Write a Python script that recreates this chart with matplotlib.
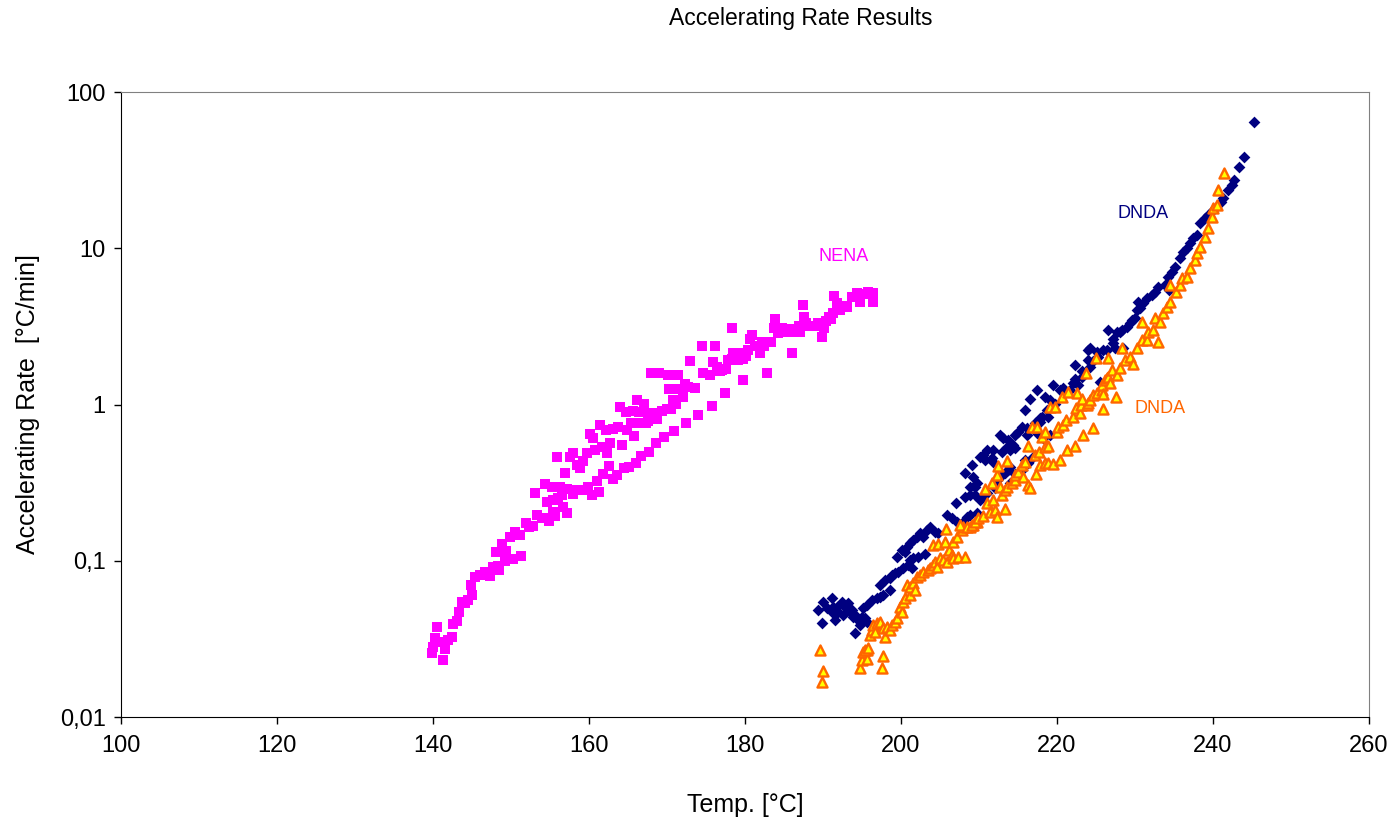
import matplotlib
matplotlib.use("Agg")
import matplotlib.pyplot as plt
from matplotlib.ticker import FixedLocator, FixedFormatter

plt.rcParams['font.family'] = ['Liberation Sans', 'DejaVu Sans']

# NENA (magenta squares)
nena_t = [139.9, 140.0, 140.5, 140.3, 140.9, 141.5, 141.3, 141.9, 142.4, 142.6,
          143.1, 143.3, 143.7, 144.1, 144.5, 145.0, 144.9, 145.4, 146.0, 146.7,
          147.3, 147.7, 148.3, 148.5, 148.1, 148.8, 149.4, 149.2, 149.9, 150.3,
          151.3, 149.9, 150.5, 151.2, 151.9, 152.3, 152.8, 153.3, 154.0, 154.5,
          154.9, 155.4, 155.6, 153.1, 154.4, 154.6, 155.3, 155.4, 156.0, 156.3,
          156.5, 156.7, 157.2, 156.9, 157.2, 158.0, 158.5, 159.1, 159.9, 160.4,
          161.3, 161.0, 161.8, 162.6, 163.1, 163.6, 164.5, 165.1, 166.0, 166.7,
          167.7, 168.6, 169.6, 170.9, 172.4, 174.0, 175.8, 155.9, 157.6, 158.0,
          158.5, 158.8, 159.2, 159.7, 160.8, 161.7, 162.3, 162.7, 164.2, 160.1,
          160.5, 161.4, 162.2, 163.1, 163.7, 164.9, 165.8, 164.0, 164.7, 165.6,
          166.4, 166.9, 168.2, 169.4, 170.0, 170.5, 171.2, 168.7, 165.4, 166.5,
          167.3, 167.6, 166.2, 167.1, 168.0, 169.0, 170.1, 171.4, 170.3, 171.5,
          172.1, 170.8, 172.3, 172.7, 173.6, 173.0, 174.6, 175.5, 174.5, 176.2,
          175.9, 176.4, 176.8, 177.1, 177.6, 177.8, 178.3, 178.5, 179.1, 179.1,
          179.7, 180.1, 180.4, 180.6, 180.9, 181.3, 181.9, 182.4, 182.2, 182.8,
          183.3, 183.7, 183.8, 184.2, 184.7, 184.7, 185.3, 185.8, 186.0, 186.5,
          187.1, 186.9, 187.4, 187.6, 187.8, 188.3, 189.0, 189.4, 190.0, 190.1,
          189.9, 190.4, 190.8, 191.0, 191.3, 191.4, 191.8, 192.2, 192.4, 193.1,
          193.7, 194.4, 194.7, 195.3, 195.8, 196.4, 196.4, 178.3, 179.7, 182.8,
          177.4]
nena_rate = [0.0257, 0.0281, 0.0377, 0.0320, 0.0302, 0.0273, 0.0232, 0.0311, 0.0325, 0.0394,
             0.0412, 0.0470, 0.0545, 0.0537, 0.0561, 0.0604, 0.0700, 0.0788, 0.0811, 0.0848,
             0.0799, 0.0910, 0.0923, 0.0873, 0.113, 0.128, 0.115, 0.0995, 0.103, 0.103,
             0.108, 0.142, 0.153, 0.146, 0.174, 0.164, 0.166, 0.196, 0.187, 0.187,
             0.179, 0.205, 0.193, 0.272, 0.310, 0.238, 0.296, 0.245, 0.252, 0.296,
             0.264, 0.221, 0.202, 0.364, 0.288, 0.268, 0.284, 0.284, 0.296, 0.264,
             0.276, 0.324, 0.359, 0.404, 0.334, 0.354, 0.392, 0.398, 0.422, 0.468,
             0.496, 0.567, 0.619, 0.674, 0.762, 0.857, 0.977, 0.461, 0.461, 0.489,
             0.410, 0.392, 0.435, 0.489, 0.512, 0.535, 0.489, 0.567, 0.551, 0.648,
             0.611, 0.740, 0.687, 0.697, 0.718, 0.687, 0.628, 0.962, 0.892, 0.906,
             0.892, 0.892, 0.878, 0.906, 0.935, 0.935, 1.01, 0.808, 0.762, 0.762,
             0.762, 0.785, 1.07, 1.01, 1.59, 1.59, 1.55, 1.55, 1.26, 1.25,
             1.12, 1.07, 1.35, 1.30, 1.28, 1.90, 1.59, 1.55, 2.37, 2.37,
             1.87, 1.74, 1.63, 1.66, 1.68, 1.93, 1.95, 2.15, 2.15, 1.93,
             1.97, 2.04, 2.23, 2.63, 2.79, 2.37, 2.15, 2.37, 2.51, 2.51,
             2.51, 3.11, 3.51, 2.87, 3.11, 2.93, 2.90, 3.04, 2.15, 2.90,
             2.90, 3.16, 4.33, 3.63, 3.33, 3.16, 3.16, 3.33, 3.33, 3.07,
             2.71, 3.43, 3.63, 3.51, 3.88, 4.93, 4.46, 4.03, 4.27, 4.20,
             4.86, 5.16, 4.53, 5.09, 5.23, 5.16, 4.53, 3.11, 1.44, 1.59,
             1.19]

# DNDA (navy diamonds)
dnda1_t = [189.4, 189.9, 190.0, 190.5, 191.2, 191.3, 191.3, 191.5, 191.8, 191.9,
           192.4, 192.6, 192.8, 193.2, 193.5, 193.7, 193.8, 194.1, 194.1, 194.5,
           194.7, 195.0, 195.1, 195.4, 195.6, 195.6, 196.3, 196.9, 197.3, 197.7,
           197.3, 197.9, 198.6, 198.6, 198.8, 199.2, 199.6, 200.3, 199.5, 200.1,
           200.5, 200.8, 200.9, 201.2, 201.2, 201.4, 201.5, 201.5, 202.1, 202.2,
           202.4, 202.8, 203.1, 203.3, 203.7, 204.4, 204.7, 205.9, 206.5, 207.1,
           207.2, 207.8, 208.2, 208.5, 208.8, 208.8, 208.2, 209.1, 209.2, 209.5,
           209.7, 209.7, 209.5, 210.1, 210.5, 211.0, 208.8, 210.1, 210.5, 210.8,
           211.0, 211.7, 211.8, 211.8, 212.1, 212.3, 212.7, 212.7, 212.9, 213.1,
           213.3, 213.6, 213.7, 213.7, 214.0, 214.0, 214.0, 214.4, 214.6, 214.6,
           214.6, 215.0, 215.5, 215.5, 215.9, 215.9, 216.2, 216.2, 216.3, 216.5,
           216.9, 217.2, 217.4, 217.4, 217.8, 217.8, 218.1, 218.2, 218.5, 218.7,
           218.8, 219.1, 219.1, 219.5, 219.7, 220.4, 220.8, 221.0, 221.7, 222.1,
           222.3, 222.3, 222.7, 223.2, 223.2, 224.0, 224.0, 224.2, 224.2, 224.6,
           225.1, 225.3, 225.5, 225.9, 226.4, 226.5, 227.2, 227.2, 227.4, 227.7,
           228.1, 228.3, 228.5, 229.0, 229.4, 229.6, 230.0, 230.3, 230.4, 230.6,
           231.0, 231.5, 232.2, 232.6, 232.9, 233.8, 234.2, 234.4, 234.7, 235.1,
           235.8, 236.2, 236.7, 237.1, 237.4, 237.9, 238.3, 239.0, 239.4, 240.0,
           241.0, 241.3, 241.9, 242.4, 242.7, 243.3, 244.0, 245.3]
dnda1_rate = [0.0484, 0.0400, 0.0545, 0.0498, 0.0578, 0.0506, 0.0463, 0.0418, 0.0506, 0.0470,
              0.0545, 0.0450, 0.0506, 0.0537, 0.0470, 0.0484, 0.0436, 0.0345, 0.0450, 0.0418,
              0.0388, 0.0436, 0.0498, 0.0430, 0.0406, 0.0521, 0.0561, 0.0578, 0.0586, 0.0604,
              0.0700, 0.0753, 0.0650, 0.0775, 0.0811, 0.0836, 0.0848, 0.0900, 0.105, 0.117,
              0.113, 0.122, 0.094, 0.130, 0.101, 0.0900, 0.136, 0.104, 0.142, 0.105,
              0.150, 0.142, 0.110, 0.157, 0.164, 0.153, 0.150, 0.196, 0.187, 0.234,
              0.176, 0.174, 0.256, 0.190, 0.196, 0.264, 0.364, 0.410, 0.343, 0.264,
              0.202, 0.317, 0.296, 0.245, 0.256, 0.272, 0.296, 0.461, 0.475, 0.442,
              0.512, 0.455, 0.512, 0.429, 0.292, 0.329, 0.343, 0.638, 0.496, 0.611,
              0.367, 0.535, 0.593, 0.381, 0.512, 0.398, 0.317, 0.551, 0.638, 0.528,
              0.359, 0.668, 0.718, 0.381, 0.920, 0.442, 0.707, 0.638, 0.423, 1.08,
              0.461, 0.762, 1.24, 0.657, 0.820, 0.773, 0.832, 0.611, 1.11, 0.920,
              0.832, 1.07, 0.638, 1.33, 1.01, 1.24, 1.27, 1.18, 1.24, 1.37,
              1.79, 1.45, 1.33, 1.63, 1.51, 1.93, 2.23, 2.30, 1.73, 1.89,
              2.16, 2.03, 1.40, 2.23, 2.23, 3.00, 2.46, 2.63, 2.30, 2.92,
              2.92, 3.00, 2.30, 3.13, 3.31, 3.47, 3.58, 4.03, 4.53, 4.14,
              4.46, 4.80, 5.02, 5.23, 5.63, 5.80, 6.53, 5.38, 7.03, 7.57,
              8.64, 9.43, 10.0, 10.8, 11.6, 12.2, 14.5, 15.6, 16.3, 17.6,
              19.8, 21.0, 23.6, 25.4, 27.3, 33.0, 38.4, 64.3]

# DNDA (orange triangles)
dnda2_t = [189.6, 190.0, 189.9, 194.7, 195.0, 195.1, 195.6, 195.6, 195.4, 195.8,
           196.0, 196.3, 196.4, 196.7, 196.9, 197.3, 197.7, 197.6, 197.7, 197.9,
           198.2, 198.6, 198.8, 199.2, 199.5, 199.9, 200.1, 200.3, 200.5, 200.8,
           201.2, 201.2, 201.5, 201.8, 202.1, 202.4, 202.8, 203.5, 203.7, 204.1,
           204.4, 204.6, 205.0, 205.4, 205.9, 206.2, 206.5, 206.7, 207.3, 204.1,
           204.7, 205.6, 205.8, 206.7, 207.2, 207.8, 207.9, 208.8, 209.2, 209.7,
           207.6, 208.2, 208.5, 209.1, 209.5, 209.9, 210.5, 210.8, 211.0, 211.4,
           211.8, 212.1, 212.3, 211.7, 212.3, 212.4, 212.7, 212.9, 213.3, 213.3,
           213.6, 213.6, 214.2, 214.6, 214.6, 215.0, 215.5, 215.6, 215.9, 216.3,
           216.3, 216.5, 216.8, 217.4, 217.2, 217.3, 217.7, 217.8, 218.1, 218.5,
           218.5, 218.5, 218.8, 218.8, 219.1, 219.5, 219.7, 220.0, 220.1, 220.4,
           220.6, 220.8, 221.2, 221.3, 221.4, 222.1, 222.3, 222.4, 222.6, 223.0,
           223.1, 223.2, 223.3, 223.7, 223.8, 224.0, 224.2, 224.6, 224.6, 225.0,
           225.1, 225.8, 225.8, 225.9, 225.9, 226.2, 226.4, 226.5, 226.5, 226.8,
           227.1, 227.6, 227.7, 228.1, 228.3, 228.7, 229.4, 229.7, 230.3, 230.9,
           230.9, 231.5, 231.7, 232.3, 232.6, 232.9, 233.2, 233.6, 234.1, 234.5,
           234.5, 235.3, 235.8, 236.0, 236.7, 237.1, 237.7, 237.9, 238.3, 239.0,
           239.4, 239.9, 240.0, 240.5, 240.6, 241.4]
dnda2_rate = [0.0269, 0.0196, 0.0168, 0.0206, 0.0232, 0.0261, 0.0269, 0.0236, 0.0269, 0.0277,
              0.0335, 0.0360, 0.0388, 0.0350, 0.0400, 0.0406, 0.0371, 0.0206, 0.0246, 0.0326,
              0.0377, 0.0360, 0.0388, 0.0406, 0.0430, 0.0506, 0.0470, 0.0545, 0.0578, 0.0700,
              0.0604, 0.0677, 0.0718, 0.0650, 0.0788, 0.0811, 0.0848, 0.0873, 0.0900, 0.0940,
              0.0980, 0.0910, 0.104, 0.101, 0.0980, 0.117, 0.109, 0.104, 0.105, 0.126,
              0.128, 0.132, 0.160, 0.132, 0.142, 0.157, 0.164, 0.164, 0.169, 0.176,
              0.169, 0.105, 0.164, 0.169, 0.176, 0.187, 0.193, 0.288, 0.234, 0.205,
              0.245, 0.211, 0.190, 0.317, 0.354, 0.404, 0.296, 0.264, 0.284, 0.215,
              0.296, 0.435, 0.317, 0.329, 0.354, 0.371, 0.410, 0.343, 0.429, 0.543,
              0.305, 0.292, 0.718, 0.718, 0.475, 0.359, 0.496, 0.410, 0.619, 0.668,
              0.535, 0.423, 0.543, 0.423, 0.962, 0.416, 0.962, 0.668, 0.718, 0.442,
              1.11, 0.740, 0.796, 0.512, 1.21, 0.832, 0.543, 0.948, 1.18, 0.878,
              0.991, 1.09, 0.638, 1.59, 0.991, 1.02, 1.07, 1.15, 0.707, 2.00,
              1.18, 1.24, 1.33, 1.17, 0.935, 1.44, 1.48, 2.00, 1.51, 1.37,
              1.66, 1.11, 1.55, 1.71, 2.30, 1.93, 2.01, 1.83, 2.30, 2.59,
              3.37, 2.59, 2.92, 3.00, 3.58, 2.51, 3.37, 3.84, 4.20, 4.53,
              5.80, 5.23, 5.80, 6.43, 6.53, 7.45, 8.40, 9.30, 10.2, 11.8,
              13.5, 15.8, 18.1, 18.9, 23.6, 30.3]

x_ticks = [100, 120, 140, 160, 180, 200, 220, 240, 260]
y_ticks = [0.01, 0.1, 1, 10, 100]
y_tick_labels = ['0,01', '0,1', '1', '10', '100']

fig = plt.figure(figsize=(13.97, 8.22), dpi=100)
ax = fig.add_axes([0.0866, 0.1277, 0.8934, 0.7603])

ax.scatter(nena_t, nena_rate, marker='s', s=42, color='#FF00FF', linewidths=0, zorder=3)
ax.scatter(dnda1_t, dnda1_rate, marker='D', s=36, color='#000080', linewidths=0, zorder=3)
ax.scatter(dnda2_t, dnda2_rate, marker='^', s=52, facecolor='#FFFF00', edgecolor='#FF6600',
           linewidths=1.7, zorder=4)

ax.set_yscale('log')
ax.set_xlim(100, 260)
ax.set_ylim(0.01, 100)
ax.xaxis.set_major_locator(FixedLocator(x_ticks))
ax.yaxis.set_major_locator(FixedLocator(y_ticks))
ax.yaxis.set_major_formatter(FixedFormatter(y_tick_labels))
ax.yaxis.set_minor_locator(FixedLocator([]))
ax.tick_params(axis='both', direction='out', length=5, width=1, labelsize=17, color='black')
ax.tick_params(axis='x', pad=8)
ax.tick_params(axis='y', pad=6)

for side in ['top', 'right']:
    ax.spines[side].set_color('#808080')
for side in ['left', 'bottom']:
    ax.spines[side].set_color('black')

ax.set_xlabel('Temp. [°C]', fontsize=18, labelpad=26)
ax.set_ylabel('Accelerating Rate  [°C/min]', fontsize=18, labelpad=14)

ax.text(192.6, 8.8, 'NENA', color='#FF00FF', fontsize=13, ha='center', va='center')
ax.text(231.0, 16.8, 'DNDA', color='#000080', fontsize=13, ha='center', va='center')
ax.text(233.2, 0.95, 'DNDA', color='#FF6600', fontsize=13, ha='center', va='center')

fig.text(0.573, 0.978, 'Accelerating Rate Results', fontsize=16.5, ha='center', va='center')

fig.savefig('out.png', dpi=100)
